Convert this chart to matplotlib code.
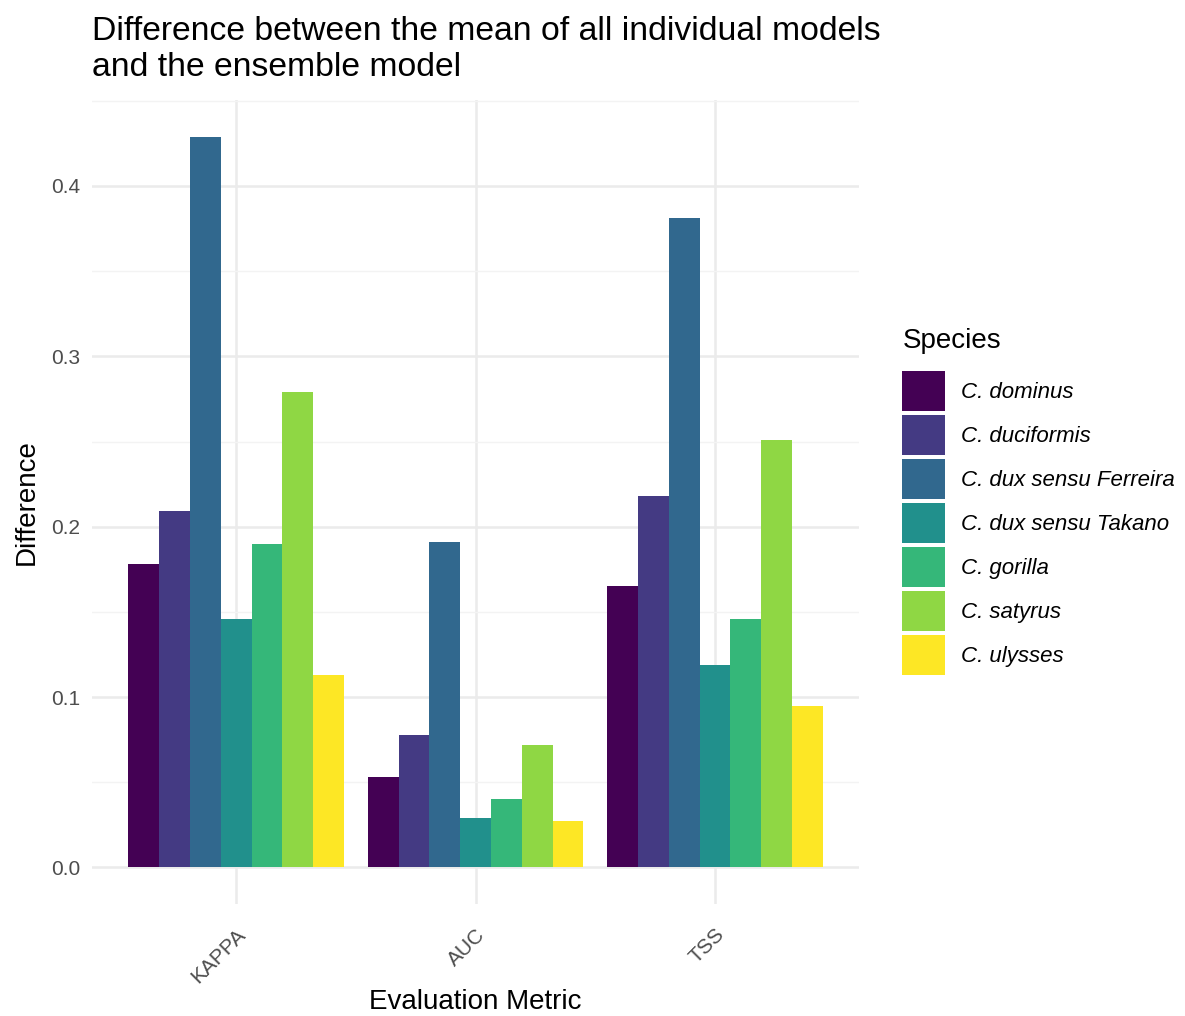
import numpy as np
import matplotlib.pyplot as plt

plt.rcParams['font.family'] = ['Liberation Sans', 'DejaVu Sans']

# Mean-minus-ensemble differences per evaluation metric and species
metrics = ['KAPPA', 'AUC', 'TSS']
species = ['C. dominus', 'C. duciformis', 'C. dux sensu Ferreira',
           'C. dux sensu Takano', 'C. gorilla', 'C. satyrus', 'C. ulysses']
kappa = [0.178, 0.209, 0.429, 0.146, 0.190, 0.279, 0.113]
auc = [0.053, 0.078, 0.191, 0.029, 0.040, 0.072, 0.027]
tss = [0.165, 0.218, 0.381, 0.119, 0.146, 0.251, 0.095]

colors = ['#440154', '#443A83', '#31688E', '#21908C',
          '#35B779', '#8FD744', '#FDE725']

values = np.array([kappa, auc, tss])

fig = plt.figure(figsize=(11.85, 10.16), dpi=100)
ax = fig.add_axes([0.078, 0.1102, 0.6467, 0.7914])

n = len(species)
bar_w = 0.9 / n
x = np.arange(1, len(metrics) + 1)
for i, (sp, col) in enumerate(zip(species, colors)):
    offs = -0.45 + bar_w * (i + 0.5)
    ax.bar(x + offs, values[:, i], width=bar_w, color=col, label=sp,
           linewidth=0, zorder=2)

ymax = values.max()
pad = ymax * 0.05
ax.set_ylim(-pad, ymax + pad)
ax.set_xlim(0.4, len(metrics) + 0.6)

# ggplot-like minimal theme
for s in ax.spines.values():
    s.set_visible(False)
ax.set_yticks([0.0, 0.1, 0.2, 0.3, 0.4])
ax.set_yticks([0.05, 0.15, 0.25, 0.35, 0.45], minor=True)
ax.set_xticks(x)
ax.set_xticklabels(metrics, rotation=45, ha='right', va='top',
                   rotation_mode='anchor')
ax.grid(True, which='major', color='#EBEBEB', linewidth=1.8, zorder=0)
ax.grid(True, which='minor', axis='y', color='#F3F3F3', linewidth=1.0, zorder=0)
ax.set_axisbelow(True)
ax.tick_params(which='both', length=0)
ax.tick_params(axis='y', labelsize=15, labelcolor='#4D4D4D', pad=9)
ax.tick_params(axis='x', labelsize=15, labelcolor='#4D4D4D', pad=15)

ax.set_xlabel('Evaluation Metric', fontsize=20, labelpad=2)
ax.set_ylabel('Difference', fontsize=20, labelpad=8)

fig.text(0.078, 0.984, 'Difference between the mean of all individual models\n'
         'and the ensemble model', fontsize=24.3, va='top', ha='left',
         linespacing=1.2)

leg = ax.legend(title='Species', loc='upper left',
                bbox_to_anchor=(1.057, 0.716), frameon=False,
                prop={'style': 'italic', 'size': 16},
                title_fontsize=20, handlelength=1.9, handleheight=2.39,
                labelspacing=0.18, handletextpad=0.75, borderaxespad=0,
                borderpad=0)
leg._legend_box.align = 'left'
leg._legend_box.sep = 12

fig.savefig('out.png', dpi=100)
